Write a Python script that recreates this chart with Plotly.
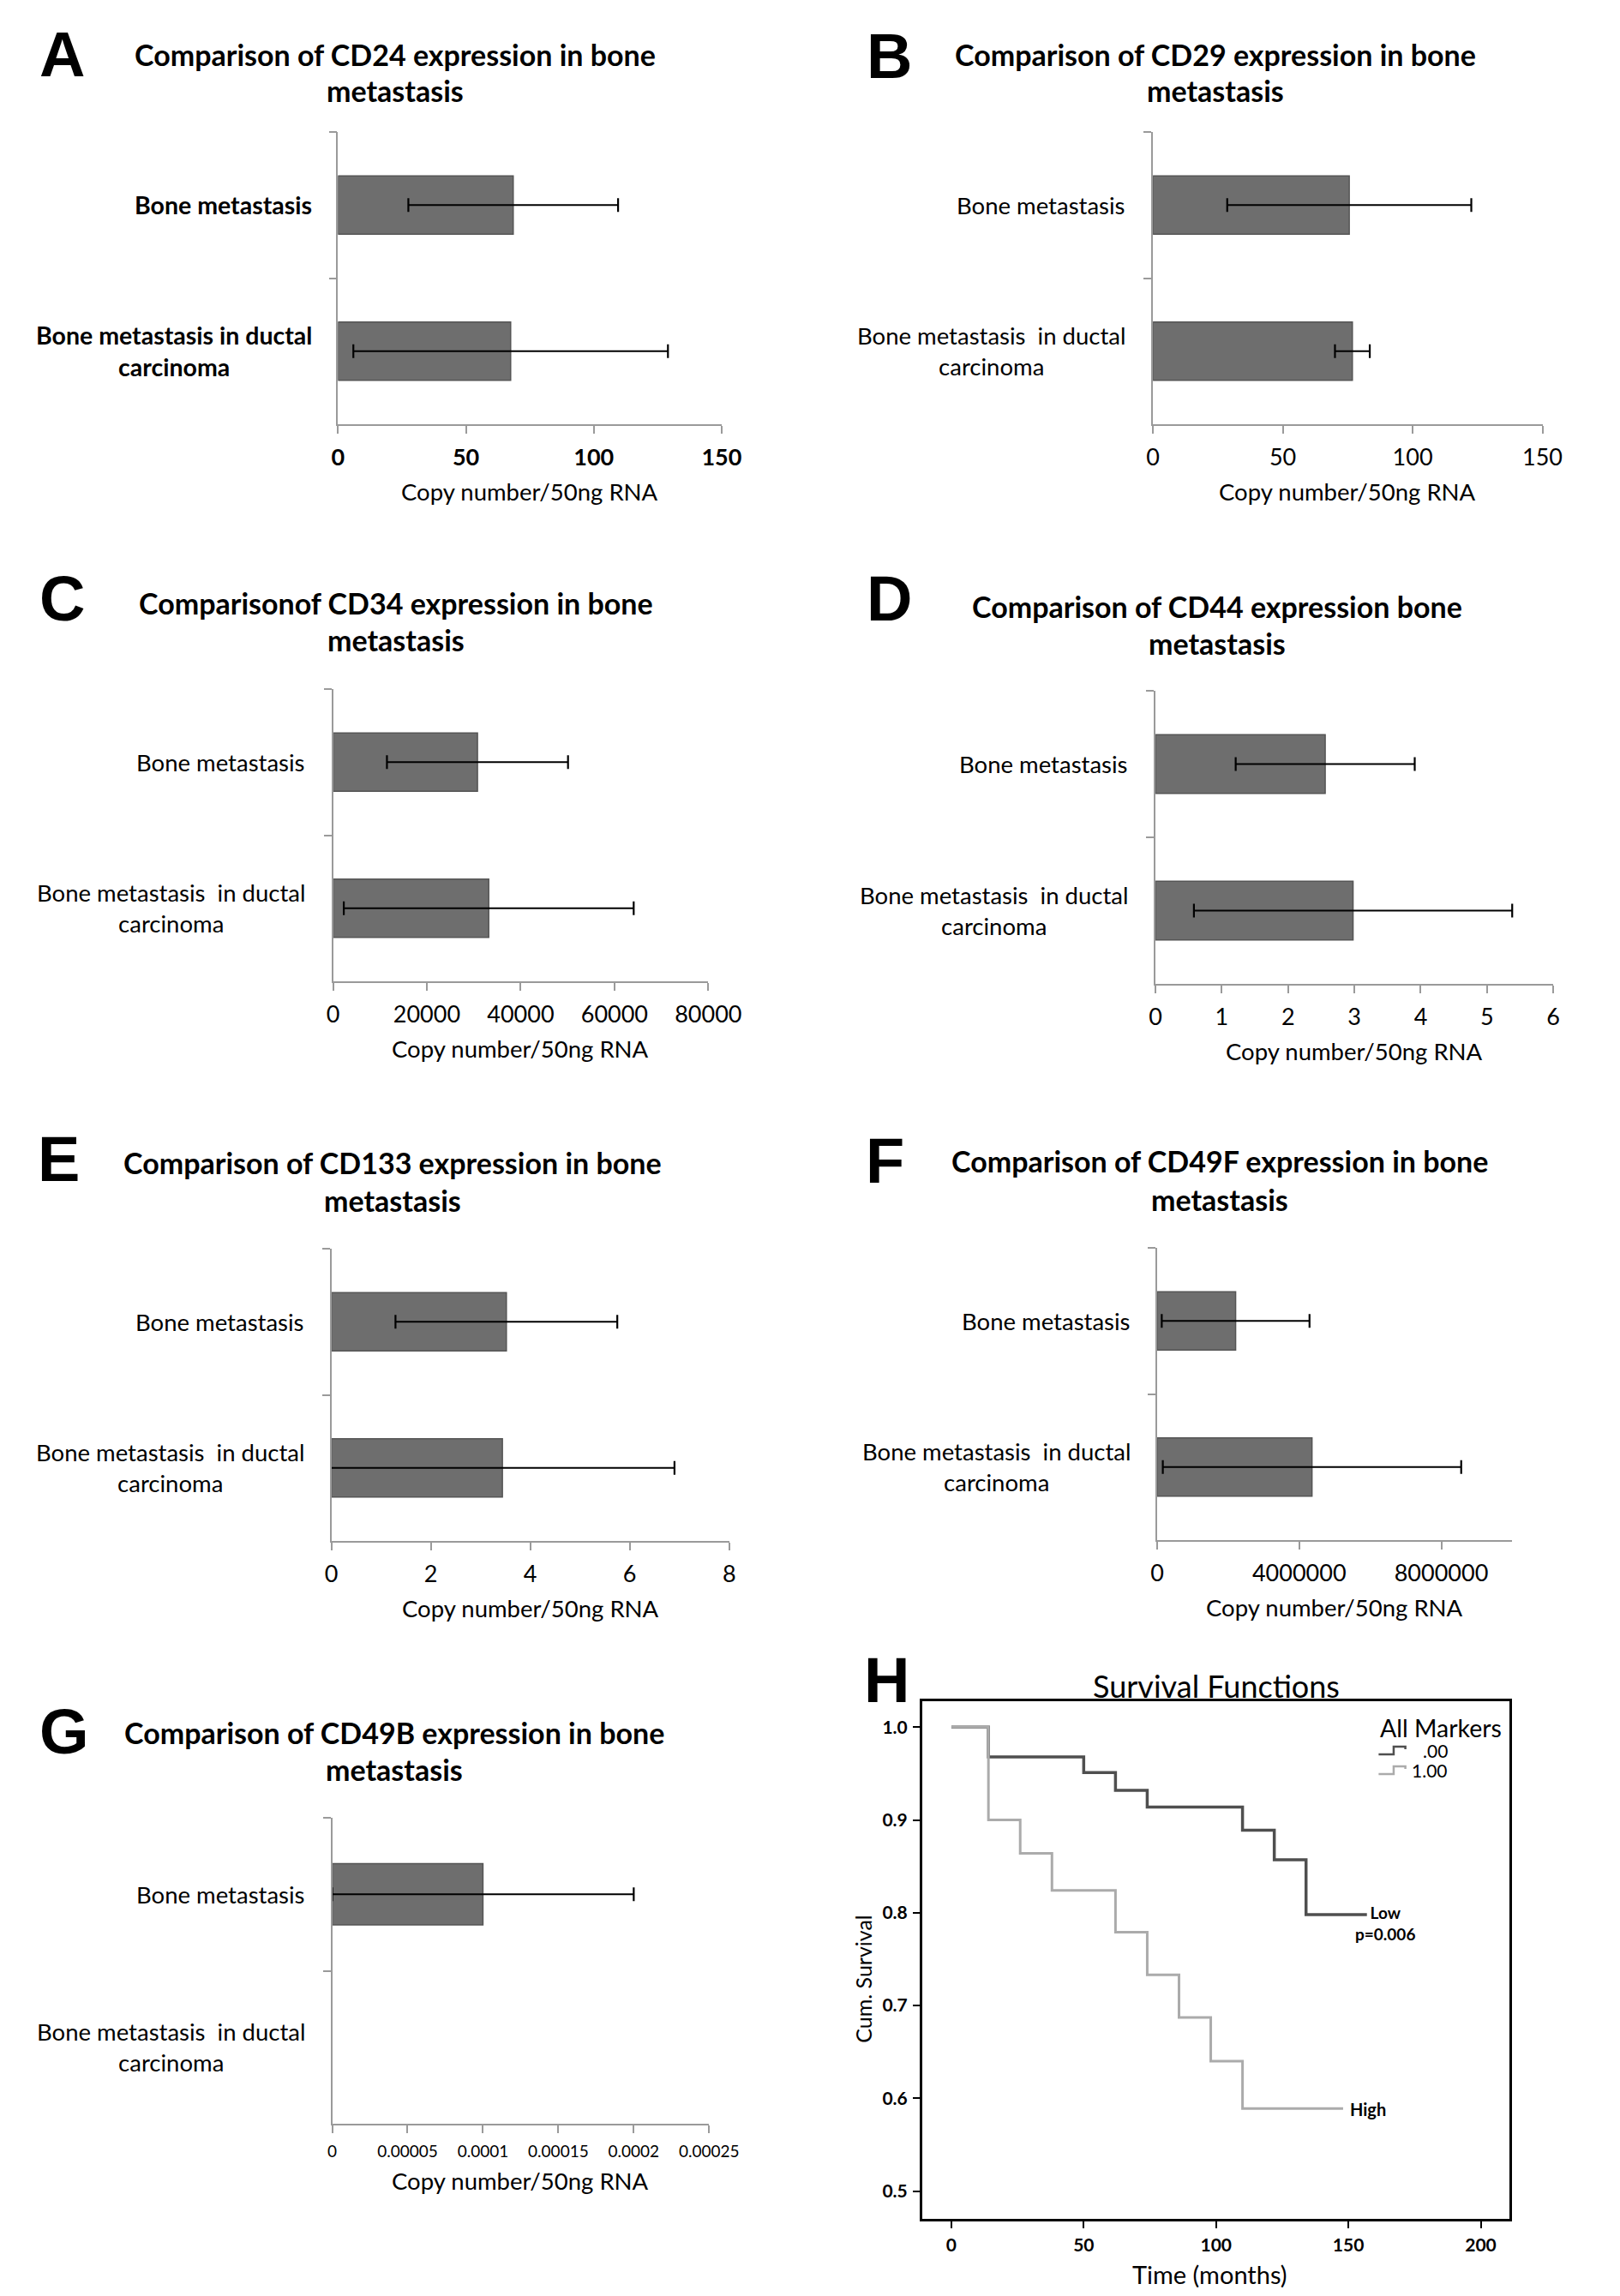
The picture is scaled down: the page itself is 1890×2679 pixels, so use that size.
import plotly.graph_objects as go

W, H = 1890, 2679

# ---------------- data ----------------
categories = ["Bone metastasis", "Bone metastasis in ductal carcinoma"]
labels_A = ["Bone metastasis", "Bone metastasis in ductal<br>carcinoma"]
labels_B = ["Bone metastasis", "Bone metastasis\u00a0 in ductal<br>carcinoma"]

cd24_mean = [68.5, 67.5]
cd24_err = [41, 61.5]
cd29_mean = [75.6, 76.8]
cd29_err = [47, 6.7]
cd34_mean = [30800, 33200]
cd34_err = [19300, 30900]
cd44_mean = [2.56, 2.98]
cd44_err = [1.35, 2.4]
cd133_mean = [3.52, 3.44]
cd133_err = [2.23, 3.46]
cd49f_mean = [2210000, 4360000]
cd49f_err = [2080000, 4200000]
cd49b_mean = [0.0001, None]
cd49b_err = [0.0001, None]

ticks_A = [0, 50, 100, 150]
ticks_C = [0, 20000, 40000, 60000, 80000]
ticks_D = [0, 1, 2, 3, 4, 5, 6]
ticks_E = [0, 2, 4, 6, 8]
ticks_F = [0, 4000000, 8000000]
ticks_G = [0, 0.00005, 0.0001, 0.00015, 0.0002, 0.00025]
ticktext_G = ["0", "0.00005", "0.0001", "0.00015", "0.0002", "0.00025"]

# Kaplan-Meier (panel H)
low_t = [0, 14, 50, 62, 74, 110, 122, 134, 157]
low_s = [1.0, 0.968, 0.951, 0.932, 0.914, 0.889, 0.857, 0.798, 0.798]
high_t = [0, 14, 26, 38, 62, 74, 86, 98, 110, 148]
high_s = [1.0, 0.90, 0.864, 0.824, 0.779, 0.733, 0.687, 0.640, 0.589, 0.589]
km_xticks = [0, 50, 100, 150, 200]
km_yticks = [0.5, 0.6, 0.7, 0.8, 0.9, 1.0]
legend_title = "All Markers"
legend_names = [".00", "1.00"]

FONT = "Lato"
LETTER_FONT = "Liberation Sans"
LOW_COLOR = "#4f4f4f"
HIGH_COLOR = "#ababab"


def dom(x0, x1, y0, y1):
    return [x0 / W, x1 / W], [1 - y1 / H, 1 - y0 / H]


panels = [
    dict(labels=labels_A, mean=cd24_mean, err=cd24_err, rng=[0, 150], tv=ticks_A, tt=None,
         box=(388, 847, 146, 487), bold=True, tfs=27, gap=28,
         title=["Comparison of CD24 expression in bone", "metastasis"], tx=456, ty=(55, 98),
         letter="A", lp=(58, 55)),
    dict(labels=labels_B, mean=cd29_mean, err=cd29_err, rng=[0, 150], tv=ticks_A, tt=None,
         box=(1363, 1829, 146, 487), bold=False, tfs=27, gap=30,
         title=["Comparison of CD29 expression in bone", "metastasis"], tx=1438, ty=(55, 98),
         letter="B", lp=(1048, 58)),
    dict(labels=labels_B, mean=cd34_mean, err=cd34_err, rng=[0, 80000], tv=ticks_C, tt=None,
         box=(382, 831, 796, 1137), bold=False, tfs=27, gap=31,
         title=["Comparisonof CD34 expression in bone", "metastasis"], tx=457, ty=(695, 739),
         letter="C", lp=(58, 690)),
    dict(labels=labels_B, mean=cd44_mean, err=cd44_err, rng=[0, 6], tv=ticks_D, tt=None,
         box=(1366, 1842, 798, 1140), bold=False, tfs=27, gap=30,
         title=["Comparison of CD44 expression bone", "metastasis"], tx=1440, ty=(699, 742),
         letter="D", lp=(1048, 690)),
    dict(labels=labels_B, mean=cd133_mean, err=cd133_err, rng=[0, 8], tv=ticks_E, tt=None,
         box=(380, 856, 1449, 1790), bold=False, tfs=27, gap=30,
         title=["Comparison of CD133 expression in bone", "metastasis"], tx=453, ty=(1349, 1393),
         letter="E", lp=(54, 1344)),
    dict(labels=labels_B, mean=cd49f_mean, err=cd49f_err, rng=[0, 10000000], tv=ticks_F, tt=None,
         box=(1368, 1793, 1448, 1789), bold=False, tfs=27, gap=29,
         title=["Comparison of CD49F expression in bone", "metastasis"], tx=1443, ty=(1347, 1391),
         letter="F", lp=(1042, 1347)),
    dict(labels=labels_B, mean=cd49b_mean, err=cd49b_err, rng=[0, 0.00025], tv=ticks_G, tt=ticktext_G,
         box=(381, 832, 2113, 2470), bold=False, tfs=19, gap=30,
         title=["Comparison of CD49B expression in bone", "metastasis"], tx=455, ty=(2013, 2056),
         letter="G", lp=(60, 2012)),
]

fig = go.Figure()
layout = dict(
    width=W, height=H, margin=dict(l=0, r=0, t=0, b=0),
    paper_bgcolor="white", plot_bgcolor="white",
    font=dict(family=FONT, color="black"),
    showlegend=False,
)
annotations = []
shapes = []
AXC = "#9a9a9a"

for i, p in enumerate(panels, start=1):
    xs = "x" if i == 1 else f"x{i}"
    ys = "y" if i == 1 else f"y{i}"
    xd, yd = dom(*p["box"])
    fig.add_trace(go.Bar(
        x=p["mean"], y=categories, orientation="h", width=0.4,
        marker=dict(color="#6e6e6e", line=dict(color="#555555", width=1.5)),
        error_x=dict(type="data", array=p["err"], visible=True, color="black", thickness=2.2, width=8),
        xaxis=xs, yaxis=ys, showlegend=False, hoverinfo="skip",
    ))
    xa = dict(domain=xd, anchor=ys, range=p["rng"], tickvals=p["tv"],
              showline=True, linecolor=AXC, linewidth=1.5, ticks="outside", ticklen=9,
              tickcolor=AXC, tickwidth=1.5, showgrid=False, zeroline=False,
              tickfont=dict(family=FONT, size=p["tfs"], color="black",
                            weight="bold" if p["bold"] else "normal"),
              ticklabelstandoff=5)
    if p["tt"] is not None:
        xa["ticktext"] = p["tt"]
    else:
        xa["tickformat"] = "d"
    ya = dict(domain=yd, anchor=xs, type="category", categoryorder="array",
              categoryarray=categories, autorange="reversed",
              showline=True, linecolor=AXC, linewidth=1.5, ticks="outside", ticklen=9,
              tickcolor=AXC, tickwidth=1.5, tickson="boundaries", showgrid=False, zeroline=False,
              showticklabels=False)
    layout["xaxis" if i == 1 else f"xaxis{i}"] = xa
    layout["yaxis" if i == 1 else f"yaxis{i}"] = ya

    # category labels (centre-aligned multi-line, right edge near the axis)
    for cat, lab in zip(categories, p["labels"]):
        annotations.append(dict(text=lab, x=0, y=cat, xref=f"{xs} domain", yref=ys,
                                xanchor="right", yanchor="middle", align="center",
                                xshift=-p["gap"], showarrow=False,
                                font=dict(family=FONT, size=28.5 if p["bold"] else 27.5, color="black",
                                          weight="bold" if p["bold"] else "normal")))
    # titles
    for line, yy in zip(p["title"], p["ty"]):
        annotations.append(dict(text=line, x=p["tx"] / W, y=1 - yy / H, xref="paper", yref="paper",
                                xanchor="center", yanchor="middle", showarrow=False,
                                font=dict(family=FONT, size=34, color="black", weight="bold")))
    # axis title
    annotations.append(dict(text="Copy number/50ng RNA", x=0.5, y=0, xref=f"{xs} domain",
                            yref=f"{ys} domain", xanchor="center", yanchor="middle",
                            yshift=-(66 if p["tt"] is not None else 78),
                            showarrow=False, font=dict(family=FONT, size=27.5, color="black")))
    # panel letter
    annotations.append(dict(text=p["letter"], x=p["lp"][0] / W, y=1 - p["lp"][1] / H,
                            xref="paper", yref="paper", xanchor="center", yanchor="middle",
                            showarrow=False,
                            font=dict(family=LETTER_FONT, size=74, color="black", weight="bold")))

# ---------------- panel H ----------------
xd, yd = dom(1087, 1790, 1977, 2581)
fig.add_trace(go.Scatter(x=low_t, y=low_s, mode="lines", line=dict(shape="hv", color=LOW_COLOR, width=3.5),
                         name=legend_names[0], xaxis="x8", yaxis="y8", hoverinfo="skip"))
fig.add_trace(go.Scatter(x=high_t, y=high_s, mode="lines", line=dict(shape="hv", color=HIGH_COLOR, width=3),
                         name=legend_names[1], xaxis="x8", yaxis="y8", hoverinfo="skip"))
layout["xaxis8"] = dict(domain=xd, anchor="y8", range=[-11, 211], tickvals=km_xticks,
                        showline=True, mirror=True, linecolor="black", linewidth=3,
                        ticks="outside", ticklen=8, tickcolor="black", tickwidth=2,
                        showgrid=False, zeroline=False,
                        tickfont=dict(family=FONT, size=21, color="black", weight="bold"),
                        ticklabelstandoff=2)
layout["yaxis8"] = dict(domain=yd, anchor="x8", range=[0.47, 1.028], tickvals=km_yticks,
                        tickformat=".1f",
                        showline=True, mirror=True, linecolor="black", linewidth=3,
                        ticks="outside", ticklen=8, tickcolor="black", tickwidth=2,
                        showgrid=False, zeroline=False,
                        tickfont=dict(family=FONT, size=21, color="black", weight="bold"),
                        ticklabelstandoff=2)

# legend drawn as text + small step keys
annotations.append(dict(text=legend_title, x=1633 / W, y=1 - 2008 / H, xref="paper", yref="paper",
                        xanchor="left", yanchor="middle", showarrow=False,
                        font=dict(family=FONT, size=28.5, color="black")))
for name, yy, col in zip(legend_names, [2034, 2057], [LOW_COLOR, HIGH_COLOR]):
    annotations.append(dict(text=name, x=1718 / W, y=1 - yy / H, xref="paper", yref="paper",
                            xanchor="right", yanchor="middle", showarrow=False,
                            font=dict(family=FONT, size=21, color="black")))
    y0 = 1 - (yy + 5) / H
    y1 = 1 - (yy - 4) / H
    y2 = 1 - (yy - 1) / H
    shapes.append(dict(type="path", xref="paper", yref="paper",
                       path=f"M {1633 / W},{y0} L {1651 / W},{y0} L {1651 / W},{y1} "
                            f"L {1665 / W},{y1} L {1665 / W},{y2}",
                       line=dict(color=col, width=2.5)))

annotations += [
    dict(text="Survival Functions", x=1439 / W, y=1 - 1959 / H, xref="paper", yref="paper",
         xanchor="center", yanchor="middle", showarrow=False,
         font=dict(family=FONT, size=36, color="black")),
    dict(text="Time (months)", x=1431 / W, y=1 - 2645 / H, xref="paper", yref="paper",
         xanchor="center", yanchor="middle", showarrow=False,
         font=dict(family=FONT, size=29, color="black")),
    dict(text="Cum. Survival", x=1016 / W, y=1 - 2301 / H, xref="paper", yref="paper",
         xanchor="center", yanchor="middle", showarrow=False, textangle=-90,
         font=dict(family=FONT, size=25, color="black")),
    dict(text="Low<br>p=0.006", x=1641 / W, y=1 - 2236 / H, xref="paper", yref="paper",
         xanchor="center", yanchor="middle", align="center", showarrow=False,
         font=dict(family=FONT, size=19, color="black", weight="bold")),
    dict(text="High", x=1597 / W, y=1 - 2453 / H, xref="paper", yref="paper",
         xanchor="left", yanchor="middle", showarrow=False,
         font=dict(family=FONT, size=20, color="black", weight="bold")),
    dict(text="H", x=1044 / W, y=1 - 1953 / H, xref="paper", yref="paper",
         xanchor="center", yanchor="middle", showarrow=False,
         font=dict(family=LETTER_FONT, size=74, color="black", weight="bold")),
]

layout["annotations"] = annotations
layout["shapes"] = shapes
fig.update_layout(**layout)
fig.write_html("out.html")
